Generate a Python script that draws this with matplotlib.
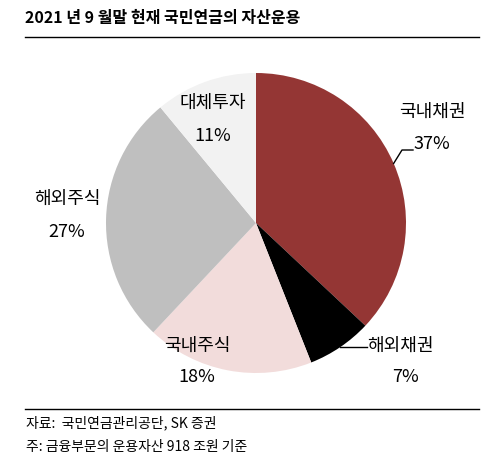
import numpy as np
import matplotlib
matplotlib.use("Agg")
from matplotlib import pyplot as plt

plt.rcParams["font.family"] = ["Noto Sans CJK KR", "DejaVu Sans"]

# 데이터 (2021년 9월말, 단위 %)
categories = ["국내채권", "해외채권", "국내주식", "해외주식", "대체투자"]
shares = [37, 7, 18, 27, 11]
colors = ["#943634", "#000000", "#F2DCDB", "#BFBFBF", "#F2F2F2"]

title = "2021 년 9 월말 현재 국민연금의 자산운용"
source = "자료:  국민연금관리공단, SK 증권"
note = "주: 금융부문의 운용자산 918 조원 기준"

W, H = 498, 468
CX, CY, R = 256, 223, 150  # pie centre / radius in pixels


def px(x, y):
    # pixel (from top-left) -> pie data coords
    return (x - CX) / R, (CY - y) / R


fig = plt.figure(figsize=(W / 100, H / 100), dpi=100)
ax = fig.add_axes([(CX - R) / W, (H - CY - R) / H, 2 * R / W, 2 * R / H])

wedges, _ = ax.pie(shares, colors=colors, startangle=90, counterclock=False,
                   radius=1, wedgeprops=dict(linewidth=0))
ax.set_xlim(-1, 1)
ax.set_ylim(-1, 1)
ax.set_aspect("auto")
ax.axis("off")

# label positions (name, value) in pixels
label_pos = {
    "국내채권": ((432, 112), (432, 144)),
    "해외채권": ((400, 346), (405, 377)),
    "국내주식": ((197, 346), (197, 377)),
    "해외주식": ((67, 199), (67, 232)),
    "대체투자": ((213, 103), (213, 136)),
}

fs = 13
for name, val in zip(categories, shares):
    (nx, ny), (vx, vy) = label_pos[name]
    ax.text(*px(nx, ny), name, ha="center", va="center", fontsize=fs)
    ax.text(*px(vx, vy), f"{val}%", ha="center", va="center", fontsize=fs)

# leader lines
def mid_point(w):
    a = np.deg2rad((w.theta1 + w.theta2) / 2)
    return np.cos(a), np.sin(a)

x0, y0 = mid_point(wedges[0])
ex, ey = px(402, 150)
tx, ty = px(413, 150)
ax.plot([x0, ex, tx], [y0, ey, ty], color="black", lw=1, clip_on=False)

x1, y1 = mid_point(wedges[1])
tx, ty = px(367, 346)
ax.plot([x1, tx], [y1, y1], color="black", lw=1, clip_on=False)

# title and rules
fig.text(25 / W, 1 - 18 / H, title, fontsize=11.5, fontweight="bold",
         ha="left", va="center")
fig.add_artist(plt.Line2D([25 / W, 479 / W], [1 - 37 / H, 1 - 37 / H],
                          color="black", lw=1))
fig.add_artist(plt.Line2D([25 / W, 479 / W], [1 - 409 / H, 1 - 409 / H],
                          color="black", lw=1))

fig.text(26 / W, 1 - 423 / H, source, fontsize=10, ha="left", va="center")
fig.text(26 / W, 1 - 447 / H, note, fontsize=10, ha="left", va="center")

fig.savefig("out.png", dpi=100)
